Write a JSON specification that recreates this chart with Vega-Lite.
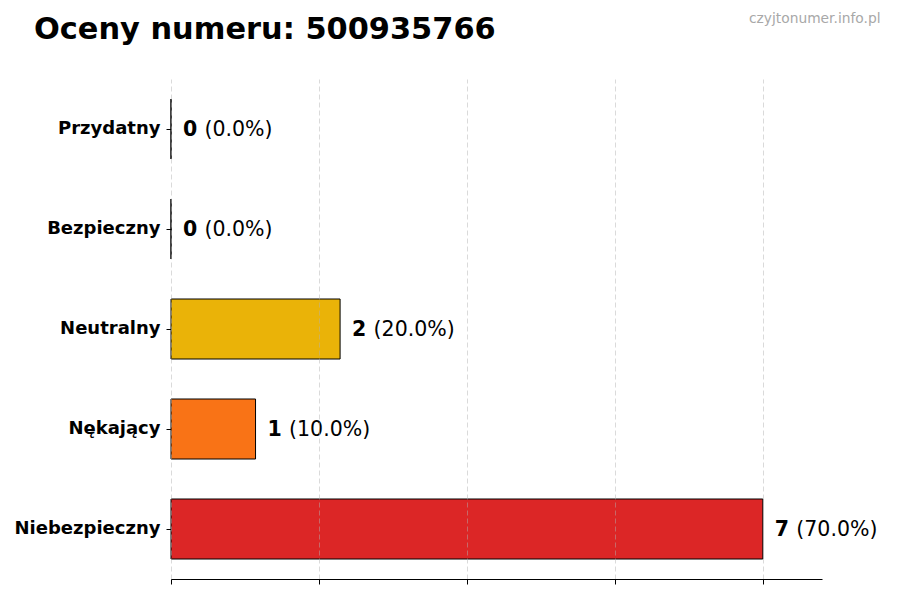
{
  "$schema": "https://vega.github.io/schema/vega-lite/v6.json",
  "width": 651,
  "height": 500,
  "autosize": {"type": "none"},
  "padding": {"left": 171, "top": 79, "right": 78, "bottom": 21},
  "background": "white",
  "title": {
    "text": "Oceny numeru: 500935766",
    "anchor": "start",
    "frame": "group",
    "dx": -137,
    "offset": 0,
    "dy": 58,
    "baseline": "alphabetic",
    "font": "DejaVu Sans",
    "fontSize": 30.4,
    "fontWeight": "bold",
    "color": "black"
  },
  "config": {
    "view": {"stroke": null},
    "font": "DejaVu Sans"
  },
  "data": {
    "values": [
      {"category": "Przydatny", "count": 0, "num": "0", "pct": "(0.0%)"},
      {"category": "Bezpieczny", "count": 0, "num": "0", "pct": "(0.0%)"},
      {"category": "Neutralny", "count": 2, "num": "2", "pct": "(20.0%)"},
      {"category": "Nękający", "count": 1, "num": "1", "pct": "(10.0%)"},
      {"category": "Niebezpieczny", "count": 7, "num": "7", "pct": "(70.0%)"}
    ]
  },
  "encoding": {
    "y": {
      "field": "category",
      "type": "nominal",
      "sort": ["Przydatny", "Bezpieczny", "Neutralny", "Nękający", "Niebezpieczny"],
      "scale": {"paddingInner": 0.4, "paddingOuter": 0.2},
      "axis": {
        "title": null,
        "domain": false,
        "ticks": true,
        "tickSize": 5,
        "tickColor": "black",
        "labelPadding": 6,
        "labelFont": "DejaVu Sans",
        "labelFontSize": 18,
        "labelFontWeight": "bold",
        "labelColor": "black",
        "grid": false
      }
    }
  },
  "layer": [
    {
      "mark": {"type": "bar", "stroke": "black", "strokeWidth": 1},
      "encoding": {
        "x": {
          "field": "count",
          "type": "quantitative",
          "scale": {"domain": [0, 7.7], "nice": false, "zero": true},
          "axis": {
            "title": "czyjtonumer.info.pl",
            "titleX": 709,
            "titleY": -557,
            "titleAlign": "right",
            "titleAnchor": "end",
            "titleBaseline": "alphabetic",
            "titleFont": "DejaVu Sans",
            "titleFontSize": 13.8,
            "titleFontWeight": "normal",
            "titleColor": "#a8a8a8",
            "values": [0, 1.75, 3.5, 5.25, 7],
            "labels": false,
            "domain": true,
            "domainColor": "black",
            "domainWidth": 1,
            "ticks": true,
            "tickSize": 5,
            "tickColor": "black",
            "grid": true,
            "gridColor": "#b0b0b0",
            "gridOpacity": 0.6,
            "gridDash": [5, 3],
            "gridWidth": 0.8,
            "zindex": 1
          }
        },
        "color": {
          "field": "category",
          "type": "nominal",
          "scale": {
            "domain": ["Przydatny", "Bezpieczny", "Neutralny", "Nękający", "Niebezpieczny"],
            "range": ["#22C55E", "#3B82F6", "#EAB308", "#F97316", "#DC2626"]
          },
          "legend": null
        }
      }
    },
    {
      "mark": {"type": "text", "align": "left", "baseline": "middle", "dx": 12, "dy": 1, "fontSize": 20.5, "fontWeight": "bold", "color": "black", "font": "DejaVu Sans"},
      "encoding": {
        "x": {"field": "count", "type": "quantitative"},
        "text": {"field": "num"}
      }
    },
    {
      "mark": {"type": "text", "align": "left", "baseline": "middle", "dx": 33.5, "dy": 1, "fontSize": 20.5, "fontWeight": "normal", "color": "black", "font": "DejaVu Sans"},
      "encoding": {
        "x": {"field": "count", "type": "quantitative"},
        "text": {"field": "pct"}
      }
    }
  ]
}
